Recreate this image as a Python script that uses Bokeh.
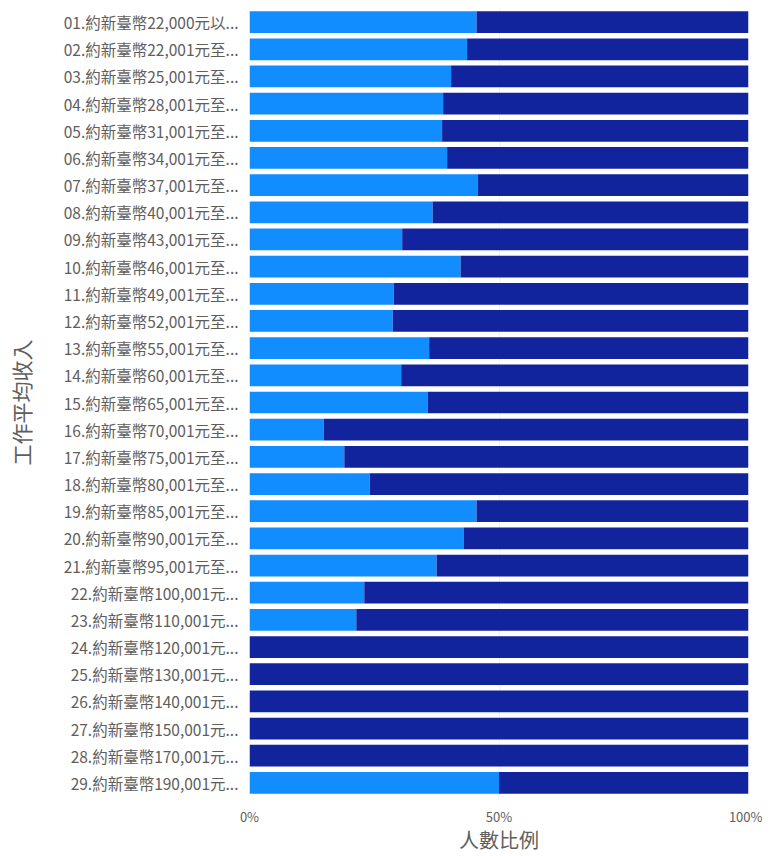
from bokeh.plotting import figure
from bokeh.models import FactorRange, Range1d, FixedTicker, NumeralTickFormatter, ColumnDataSource
from bokeh.embed import file_html
from bokeh.resources import INLINE

categories = [
    "01.約新臺幣22,000元以...", "02.約新臺幣22,001元至...", "03.約新臺幣25,001元至...",
    "04.約新臺幣28,001元至...", "05.約新臺幣31,001元至...", "06.約新臺幣34,001元至...",
    "07.約新臺幣37,001元至...", "08.約新臺幣40,001元至...", "09.約新臺幣43,001元至...",
    "10.約新臺幣46,001元至...", "11.約新臺幣49,001元至...", "12.約新臺幣52,001元至...",
    "13.約新臺幣55,001元至...", "14.約新臺幣60,001元至...", "15.約新臺幣65,001元至...",
    "16.約新臺幣70,001元至...", "17.約新臺幣75,001元至...", "18.約新臺幣80,001元至...",
    "19.約新臺幣85,001元至...", "20.約新臺幣90,001元至...", "21.約新臺幣95,001元至...",
    "22.約新臺幣100,001元...", "23.約新臺幣110,001元...", "24.約新臺幣120,001元...",
    "25.約新臺幣130,001元...", "26.約新臺幣140,001元...", "27.約新臺幣150,001元...",
    "28.約新臺幣170,001元...", "29.約新臺幣190,001元...",
]
series_a = [0.455, 0.436, 0.404, 0.388, 0.386, 0.396, 0.458, 0.367, 0.306, 0.423,
            0.289, 0.287, 0.360, 0.304, 0.357, 0.149, 0.190, 0.241, 0.455, 0.429,
            0.375, 0.230, 0.214, 0.0, 0.0, 0.0, 0.0, 0.0, 0.500]
series_b = [1.0 - v for v in series_a]
x_ticks = [0, 0.5, 1.0]

FONT = "Noto Sans CJK TC"
LABEL = "#605E5C"

source = ColumnDataSource(dict(cat=categories, a=series_a, b=series_b))

p = figure(
    width=762, height=856,
    y_range=FactorRange(factors=list(reversed(categories))),
    x_range=Range1d(0, 1),
    output_backend="svg", toolbar_location=None,
    min_border_left=249, min_border_right=14, min_border_top=8, min_border_bottom=59,
)
p.hbar_stack(["a", "b"], y="cat", height=0.8, source=source,
             color=["#118DFF", "#12239E"], line_color=None)

p.outline_line_color = None
p.ygrid.grid_line_color = None
p.xgrid.grid_line_color = "#F3F2F1"
p.xaxis.ticker = FixedTicker(ticks=x_ticks)
p.xaxis.formatter = NumeralTickFormatter(format="0%")

for ax in (p.xaxis[0], p.yaxis[0]):
    ax.axis_line_color = None
    ax.major_tick_line_color = None
    ax.minor_tick_line_color = None
    ax.major_tick_out = 0
    ax.major_tick_in = 0
    ax.major_label_text_font = FONT
    ax.major_label_text_color = LABEL
    ax.axis_label_text_font = FONT
    ax.axis_label_text_color = "#605E5C"
    ax.axis_label_text_font_style = "normal"

p.xaxis.axis_label = "人數比例"
p.xaxis.axis_label_text_font_size = "20px"
p.xaxis.major_label_text_font_size = "13px"
p.xaxis.major_label_standoff = 10
p.xaxis.axis_label_standoff = -4

p.yaxis.axis_label = "工作平均收入"
p.yaxis.axis_label_text_font_size = "21px"
p.yaxis.major_label_text_font_size = "15.5px"
p.yaxis.major_label_standoff = 11
p.yaxis.axis_label_standoff = 25

open("out.html", "w").write(file_html(p, INLINE))
